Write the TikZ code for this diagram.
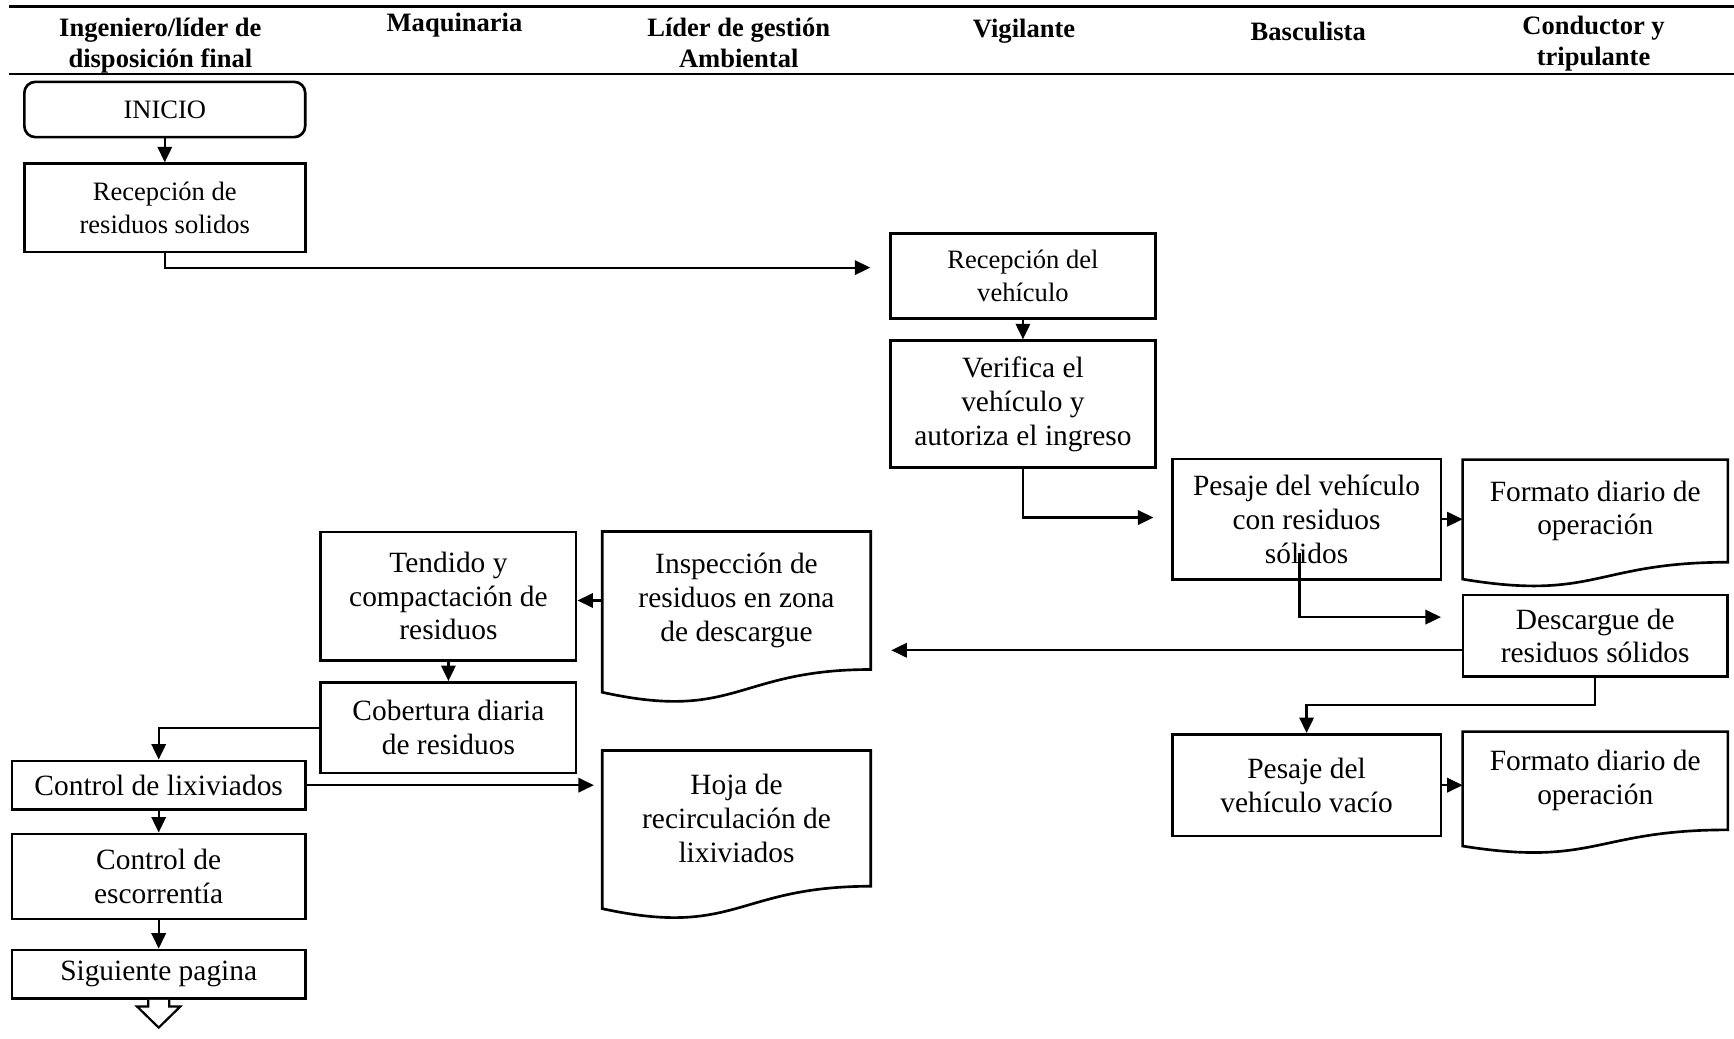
\documentclass[tikz,border=0pt]{standalone}
\usepackage{fontspec}
\setmainfont{Liberation Serif}
\usetikzlibrary{calc, arrows.meta}
\tikzset{
  box/.style={draw, line width=1.2pt, align=center, inner sep=2pt},
  doc/.style={align=center, inner sep=2pt},
  big/.style={font=\fontsize{13.3}{15.3}\selectfont},
  small/.style={font=\fontsize{12}{14.5}\selectfont},
  hdr/.style={font=\fontsize{12}{14}\selectfont\bfseries, align=center},
  flow/.style={line width=1pt, -{Triangle[length=7pt,width=6.5pt]}}}
% outline of a document symbol around a node
\newcommand{\docshape}[1]{%
  \draw[line width=1.2pt] let \p1=($(#1.north)-(#1.south)$) in
    (#1.north west) -- (#1.north east) -- (#1.south east)
    .. controls (#1.south) and ($(#1.south)+(0pt,-0.38*\y1)$)
    .. ($(#1.south west)+(0pt,-0.165*\y1)$) -- cycle;}

\begin{document}
\begin{tikzpicture}[x=0.5pt, y=-0.5pt]
	\useasboundingbox (0,0) rectangle (1568,939);
	% header
	\draw[line width=1.2pt] (8,6) -- (1568,6);
	\draw[line width=1.2pt] (8,67) -- (1568,67);
	\node[hdr] (h1) at (145,41) {Ingeniero/líder de\\disposición final};
	\node[hdr] (h2) at (411,23) {Maquinaria};
	\node[hdr] (h3) at (668,39) {Líder de gestión\\Ambiental};
	\node[hdr] (h4) at (926,28) {Vigilante};
	\node[hdr] (h5) at (1183,28) {Basculista};
	\node[hdr] (h6) at (1441,39) {Conductor y\\tripulante};
	% nodes
	\node[box, small, rounded corners=5pt, minimum width=127pt, minimum height=25pt] (inicio) at (149,99) {INICIO};
	\node[box, small, minimum width=127pt, minimum height=40pt] (recres) at (149,188) {Recepción de\\residuos solidos};
	\node[box, small, minimum width=120pt, minimum height=38.5pt] (recveh) at (925,249.5) {Recepción del\\vehículo};
	\node[box, big, minimum width=120pt, minimum height=57.5pt] (verif) at (925,365.5) {Verifica el\\vehículo y\\autoriza el ingreso};
	\node[box, big, minimum width=121.5pt, minimum height=54.5pt] (pes1) at (1181.5,469.5) {Pesaje del vehículo\\con residuos\\sólidos};
	\node[doc, big, minimum width=119.5pt, minimum height=46pt] (fmt1) at (1442.5,462) {Formato diario de\\operación};
	\node[box, big, minimum width=119.5pt, minimum height=37pt] (desc) at (1442.5,575) {Descargue de\\residuos sólidos};
	\node[box, big, minimum width=121.5pt, minimum height=46pt] (pes2) at (1181.5,710) {Pesaje del\\vehículo vacío};
	\node[doc, big, minimum width=119.5pt, minimum height=44pt] (fmt2) at (1442.5,706) {Formato diario de\\operación};
	\node[doc, big, minimum width=121pt, minimum height=62pt] (insp) at (666,543) {Inspección de\\residuos en zona\\de descargue};
	\node[box, big, minimum width=115.5pt, minimum height=58pt] (tend) at (405.5,539) {Tendido y\\compactación de\\residuos};
	\node[box, big, minimum width=115.5pt, minimum height=41pt] (cober) at (405.5,658) {Cobertura diaria\\de residuos};
	\node[box, big, minimum width=132.5pt, minimum height=22pt] (lix) at (143.5,710) {Control de lixiviados};
	\node[doc, big, minimum width=121pt, minimum height=61pt] (hoja) at (666,740) {Hoja de\\recirculación de\\lixiviados};
	\node[box, big, minimum width=132.5pt, minimum height=38.5pt] (escor) at (143.5,792.5) {Control de\\escorrentía};
	\node[box, big, minimum width=132.5pt, minimum height=22pt] (sig) at (143.5,881) {Siguiente pagina};
	\docshape{fmt1}
	\docshape{fmt2}
	\docshape{insp}
	\docshape{hoja}
	% free ends
	\coordinate (c1) at (787,242);
	\coordinate (c2) at (1043,468);
	\coordinate (c3) at (1175,500);
	\coordinate (c4) at (1303,558);
	\coordinate (c5) at (806,588);
	\coordinate (c6) at (537,717);
	% connectors
	\draw[flow] (inicio.south) -- (recres.north);
	\draw[flow] (recres.south) |- (c1);
	\draw[flow] (recveh.south) -- (verif.north);
	\draw[flow] (verif.south) |- (c2);
	\draw[flow] (pes1.east) -- (pes1.east -| fmt1.west);
	\draw[flow] (c3) |- (c4);
	\draw[flow] (desc.west |- c5) -- (c5);
	\draw[flow] (desc.south) -- ++(0,24) -| (pes2.north);
	\draw[flow] (pes2.east) -- (pes2.east -| fmt2.west);
	\draw[flow] (insp.west) -- (insp.west -| tend.east);
	\draw[flow] (tend.south) -- (cober.north);
	\draw[flow] (cober.west) -| (lix.north);
	\draw[flow] (lix.east) -- (c6 |- lix.east);
	\draw[flow] (lix.south) -- (escor.north);
	\draw[flow] (escor.south) -- (sig.north);
	% hollow arrow to next page
	\draw[line width=1pt, fill=white] ($(sig.south)+(-9.5,0)$) -- ++(0,6) -- ++(-10,0)
		-- ++(19.5,19) -- ++(19.5,-19) -- ++(-10,0) -- ++(0,-6);
\end{tikzpicture}
\end{document}
